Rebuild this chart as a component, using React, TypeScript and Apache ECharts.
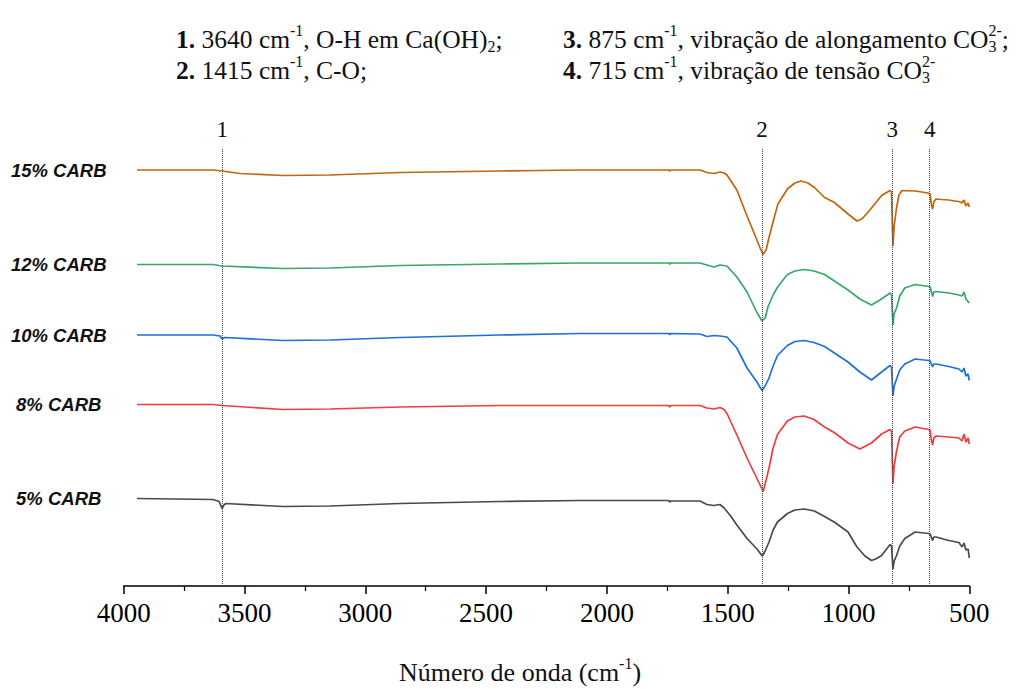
import React, { useEffect, useRef } from "react";
import * as echarts from "echarts";

// ---------- data (wavenumber cm-1, offset transmittance a.u.) ----------
const sampleNames = ["15% CARB", "12% CARB", "10% CARB", "8% CARB", "5% CARB"];
const sampleColors = ["#C2650C", "#36A86A", "#1E6FDF", "#EE3D3D", "#4A4A4A"];

const carb15: [number, number][] = [
  [3945, 83.2], [3630, 83.2], [3593, 83.0], [3518, 82.5], [3341, 82.1], [3146, 82.2], [2856, 82.7],
  [2442, 83.0], [2276, 83.1], [2111, 83.2], [1862, 83.2], [1745, 83.2], [1740, 83.0], [1735, 83.2],
  [1615, 83.2], [1586, 82.7], [1557, 82.5], [1532, 82.8], [1515, 82.6], [1503, 82.2], [1462, 79.2],
  [1420, 74.0], [1379, 69.2], [1366, 67.6], [1354, 66.3], [1341, 67.2], [1329, 69.7], [1308, 73.6],
  [1292, 76.4], [1253, 79.4], [1222, 80.6], [1197, 81.0], [1168, 80.6], [1141, 79.7], [1099, 77.7],
  [1058, 76.7], [1002, 74.4], [965, 73.0], [945, 73.4], [920, 74.7], [863, 78.1], [828, 79.1],
  [822, 78.8], [816, 68.0], [811, 72.0], [801, 75.7], [791, 78.2], [779, 79.1], [724, 79.0],
  [671, 78.6], [662, 78.4], [657, 76.2], [652, 75.4], [647, 76.8], [638, 77.4], [614, 77.3],
  [585, 77.2], [560, 77.0], [543, 76.9], [530, 76.6], [522, 77.2], [514, 76.0], [505, 76.6], [500, 75.8],
];

const carb12: [number, number][] = [
  [3945, 64.3], [3630, 64.3], [3593, 64.0], [3341, 63.5], [3146, 63.6], [2856, 64.1], [2442, 64.4],
  [2111, 64.6], [1745, 64.6], [1740, 64.4], [1735, 64.6], [1615, 64.6], [1586, 64.2], [1557, 63.8],
  [1532, 64.2], [1503, 64.0], [1462, 61.8], [1420, 58.8], [1379, 54.7], [1358, 53.0], [1345, 53.6],
  [1333, 55.9], [1312, 58.2], [1292, 59.9], [1253, 62.3], [1222, 63.0], [1183, 63.3], [1143, 63.0],
  [1099, 62.3], [1002, 59.2], [953, 57.4], [905, 56.2], [870, 57.2], [828, 58.6], [822, 58.3],
  [816, 52.2], [811, 54.5], [801, 55.6], [788, 58.0], [767, 59.6], [724, 60.3], [668, 59.9],
  [662, 59.8], [652, 57.9], [647, 58.8], [638, 58.9], [585, 58.6], [543, 58.2], [530, 58.0],
  [522, 58.8], [514, 57.4], [500, 56.6],
];

const carb10: [number, number][] = [
  [3945, 50.2], [3630, 50.2], [3601, 50.0], [3593, 49.4], [3581, 49.7], [3341, 49.1], [3146, 49.2],
  [2856, 49.7], [2442, 50.2], [2111, 50.5], [1745, 50.5], [1740, 50.3], [1735, 50.5], [1615, 50.4],
  [1586, 49.9], [1557, 50.1], [1532, 50.0], [1503, 49.8], [1462, 47.6], [1420, 43.6], [1379, 40.8],
  [1358, 39.1], [1345, 40.0], [1329, 41.6], [1312, 44.0], [1294, 46.1], [1253, 48.1], [1222, 48.9],
  [1183, 49.1], [1143, 48.7], [1099, 47.9], [1002, 44.8], [953, 42.8], [905, 41.2], [863, 42.8],
  [828, 44.1], [822, 43.8], [816, 38.0], [811, 40.0], [801, 41.4], [788, 43.2], [767, 44.4],
  [724, 45.4], [668, 45.1], [662, 45.0], [652, 43.8], [647, 44.4], [638, 44.4], [585, 43.9],
  [543, 43.4], [530, 42.8], [522, 43.6], [514, 42.0], [505, 42.4], [500, 41.1],
];

const carb8: [number, number][] = [
  [3945, 36.3], [3630, 36.3], [3593, 36.1], [3341, 35.3], [3146, 35.4], [2856, 35.8], [2442, 36.1],
  [2111, 36.1], [1745, 36.1], [1740, 35.8], [1735, 36.1], [1615, 36.1], [1586, 35.6], [1557, 35.4],
  [1532, 35.7], [1515, 35.3], [1503, 34.5], [1462, 30.2], [1420, 25.6], [1379, 21.5], [1366, 20.2],
  [1353, 18.9], [1341, 21.2], [1329, 23.6], [1312, 27.6], [1294, 30.3], [1253, 33.0], [1222, 33.8],
  [1183, 34.0], [1143, 33.3], [1099, 31.8], [1056, 30.6], [1002, 28.6], [953, 27.4], [905, 28.6],
  [863, 30.4], [828, 31.3], [822, 31.0], [816, 20.4], [811, 24.0], [801, 27.0], [788, 29.8],
  [767, 31.0], [724, 31.8], [668, 31.3], [662, 31.2], [657, 29.2], [652, 28.2], [647, 29.6],
  [638, 30.0], [585, 29.8], [543, 29.6], [530, 29.0], [522, 30.4], [514, 28.8], [505, 29.6], [500, 28.4],
];

const carb5: [number, number][] = [
  [3945, 17.5], [3630, 17.3], [3605, 16.9], [3593, 15.5], [3585, 16.2], [3577, 16.5], [3341, 15.9],
  [3146, 16.0], [2856, 16.5], [2442, 16.9], [2111, 17.1], [1745, 17.1], [1740, 16.8], [1735, 17.0],
  [1615, 17.0], [1586, 16.3], [1557, 16.1], [1532, 16.3], [1517, 15.7], [1491, 14.2], [1462, 12.2],
  [1420, 9.5], [1379, 7.4], [1357, 6.0], [1345, 7.0], [1329, 8.8], [1312, 11.2], [1294, 12.8],
  [1253, 14.5], [1222, 15.2], [1183, 15.4], [1141, 15.0], [1099, 13.9], [1056, 12.7], [1002, 10.8],
  [965, 7.8], [932, 6.0], [905, 5.1], [887, 5.4], [863, 6.1], [828, 8.3], [822, 8.0], [816, 3.4],
  [811, 5.0], [801, 6.1], [788, 8.0], [767, 9.5], [724, 10.8], [668, 10.5], [662, 10.4], [652, 9.1],
  [647, 9.8], [638, 9.8], [585, 9.1], [543, 8.7], [530, 7.8], [522, 8.6], [514, 7.2], [505, 7.4], [500, 5.6],
];

const sampleData = [carb15, carb12, carb10, carb8, carb5];

const bandPositions = [3592, 1358, 819, 664];
const bandLabels = ["1", "2", "3", "4"];

const xMin = 500;
const xMax = 4000;
const xStep = 500;
const axisTitle = "Número de onda (cm";

// header tokens: [kind, text, text2?]
type Tok = [string, string, string?];
const headerRow1Left: Tok[] = [["b", "1."], ["n", " 3640 cm"], ["sup", "-1"], ["n", ", O-H em Ca(OH)"], ["sub", "2"], ["n", ";"]];
const headerRow1Right: Tok[] = [["b", "3."], ["n", " 875 cm"], ["sup", "-1"], ["n", ", vibração de alongamento CO"], ["stack", "2-", "3"], ["n", ";"]];
const headerRow2Left: Tok[] = [["b", "2."], ["n", " 1415 cm"], ["sup", "-1"], ["n", ", C-O;"]];
const headerRow2Right: Tok[] = [["b", "4."], ["n", " 715 cm"], ["sup", "-1"], ["n", ", vibração de tensão CO"], ["stack", "2-", "3"]];

const SERIF = '"Liberation Serif", "Times New Roman", Times, serif';
const SANS = '"Liberation Sans", Arial, Helvetica, sans-serif';

let measureCtx: CanvasRenderingContext2D | null = null;
function measure(text: string, font: string): number {
  if (!measureCtx) measureCtx = document.createElement("canvas").getContext("2d");
  measureCtx!.font = font;
  return measureCtx!.measureText(text).width;
}

function txt(text: string, x: number, y: number, font: string, fill = "#111") {
  return {
    type: "text",
    x,
    y,
    silent: true,
    style: {
      text,
      font,
      fill,
      textAlign: "left",
      align: "left",
      textVerticalAlign: "middle",
      verticalAlign: "middle",
    },
  };
}

function runTokens(tokens: Tok[], x0: number, yc: number, size: number, out: any[] | null): number {
  const small = Math.round(size * 0.62);
  const fN = `${size}px ${SERIF}`;
  const fB = `bold ${size}px ${SERIF}`;
  const fS = `${small}px ${SERIF}`;
  let x = x0;
  for (const t of tokens) {
    const [k, a, b] = t;
    if (k === "stack") {
      const w = Math.max(measure(a, fS), measure(b || "", fS));
      if (out) {
        out.push(txt(a, x, yc - size * 0.32, fS));
        out.push(txt(b || "", x, yc + size * 0.3, fS));
      }
      x += w;
    } else if (k === "sup") {
      if (out) out.push(txt(a, x, yc - size * 0.32, fS));
      x += measure(a, fS);
    } else if (k === "sub") {
      if (out) out.push(txt(a, x, yc + size * 0.3, fS));
      x += measure(a, fS);
    } else {
      const f = k === "b" ? fB : fN;
      if (out) out.push(txt(a, x, yc, f));
      x += measure(a, f);
    }
  }
  return x;
}

export default function App() {
  const ref = useRef<HTMLDivElement>(null);

  useEffect(() => {
    if (!ref.current) return;
    const chart = echarts.init(ref.current, null, { renderer: "svg" });

    const series: any[] = sampleData.map((d, i) => ({
      name: sampleNames[i],
      type: "line",
      data: d,
      showSymbol: false,
      symbol: "none",
      smooth: false,
      lineStyle: { color: sampleColors[i], width: 1.7 },
      itemStyle: { color: sampleColors[i] },
      z: 3,
    }));

    series[series.length - 1].markLine = {
      silent: true,
      symbol: ["none", "none"],
      animation: false,
      lineStyle: { type: "dotted", color: "#444", width: 1 },
      label: {
        show: true,
        position: "end",
        distance: 7,
        fontFamily: SERIF,
        fontSize: 23,
        color: "#111",
        formatter: (p: any) => p.name,
      },
      data: bandPositions.map((v, i) => ({ xAxis: v, name: bandLabels[i] })),
    };

    chart.setOption({
      animation: false,
      backgroundColor: "#fff",
      grid: { left: 123.7, right: 46.7, top: 148, bottom: 103, containLabel: false },
      xAxis: {
        type: "value",
        inverse: true,
        min: xMin,
        max: xMax,
        interval: xStep,
        axisLine: { show: true, onZero: false, lineStyle: { color: "#000", width: 1.5 } },
        axisTick: { show: true, inside: false, length: 8, lineStyle: { color: "#000", width: 1.5 } },
        minorTick: { show: true, splitNumber: 2, length: 5, lineStyle: { color: "#000", width: 1.2 } },
        axisLabel: {
          fontFamily: SERIF,
          fontSize: 27,
          color: "#000",
          margin: 13,
          showMinLabel: true,
          showMaxLabel: true,
          formatter: (v: number) => String(v),
        },
        splitLine: { show: false },
      },
      yAxis: { type: "value", show: false, min: 0, max: 87.6, splitLine: { show: false } },
      series,
    });

    const graphic: any[] = [];
    // sample labels next to each trace start
    sampleData.forEach((d, i) => {
      const p = chart.convertToPixel({ gridIndex: 0 }, [d[0][0], d[0][1]]) as number[];
      graphic.push({
        type: "text",
        x: 58.7,
        y: p[1],
        silent: true,
        style: {
          text: sampleNames[i],
          font: `italic bold 18.5px ${SANS}`,
          fill: "#111",
          textAlign: "center",
          align: "center",
          textVerticalAlign: "middle",
          verticalAlign: "middle",
        },
      });
    });

    // header legend
    const hs = 25.5;
    runTokens(headerRow1Left, 176, 39, hs, graphic);
    runTokens(headerRow1Right, 563, 39, hs, graphic);
    runTokens(headerRow2Left, 176, 70, hs, graphic);
    runTokens(headerRow2Right, 563, 70, hs, graphic);

    // axis title
    const titleTokens: Tok[] = [["n", axisTitle], ["sup", "-1"], ["n", ")"]];
    const ts = 26;
    const w = runTokens(titleTokens, 0, 0, ts, null);
    const cx = 520;
    runTokens(titleTokens, cx - w / 2, 672, ts, graphic);

    chart.setOption({ graphic });

    return () => chart.dispose();
  }, []);

  return (
    <div
      ref={ref}
      style={{ position: "fixed", left: 0, top: 0, width: 1016, height: 689, background: "#fff" }}
    />
  );
}
